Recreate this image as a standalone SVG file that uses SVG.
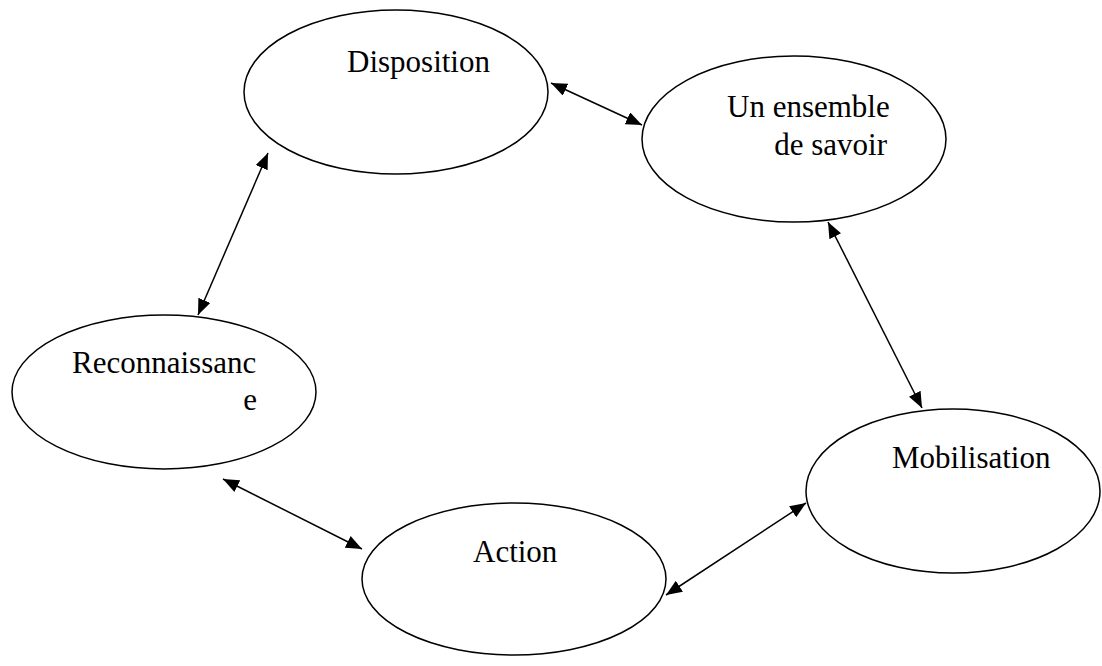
<svg xmlns="http://www.w3.org/2000/svg" width="1102" height="666" viewBox="0 0 1102 666">
<style>
.node ellipse{fill:#fff;stroke:#000;stroke-width:1.5}
.node text{font-family:"Liberation Serif","Times New Roman",serif;font-size:31px;fill:#000}
.node text.r{text-anchor:end}
.conn line{stroke:#000;stroke-width:1.5;marker-start:url(#ah);marker-end:url(#ah)}
</style>
<defs>
<marker id="ah" viewBox="0 0 10 10" refX="10" refY="5" markerWidth="16" markerHeight="13" markerUnits="userSpaceOnUse" orient="auto-start-reverse" preserveAspectRatio="none">
<path d="M0,0 L10,5 L0,10 z" fill="#000"/>
</marker>
</defs>
<rect width="1102" height="666" fill="#fff"/>
<g id="disposition" class="node">
<ellipse cx="396" cy="92" rx="152" ry="82"/>
<text x="347" y="72">Disposition</text>
</g>
<g id="savoir" class="node">
<ellipse cx="794" cy="139" rx="152" ry="83"/>
<text x="727" y="117">Un ensemble</text>
<text class="r" x="887" y="155">de savoir</text>
</g>
<g id="reconnaissance" class="node">
<ellipse cx="164" cy="392" rx="152" ry="77"/>
<text x="72" y="373">Reconnaissanc</text>
<text class="r" x="257" y="410">e</text>
</g>
<g id="mobilisation" class="node">
<ellipse cx="953" cy="491" rx="147" ry="82"/>
<text x="892" y="468">Mobilisation</text>
</g>
<g id="action" class="node">
<ellipse cx="514" cy="579" rx="152" ry="76"/>
<text x="473" y="562">Action</text>
</g>
<g id="connectors" class="conn">
<line x1="551" y1="83" x2="642" y2="125"/>
<line x1="268" y1="153" x2="198" y2="315"/>
<line x1="828" y1="222" x2="922" y2="408"/>
<line x1="223" y1="479" x2="362" y2="549"/>
<line x1="666" y1="595" x2="806" y2="503"/>
</g>
</svg>
